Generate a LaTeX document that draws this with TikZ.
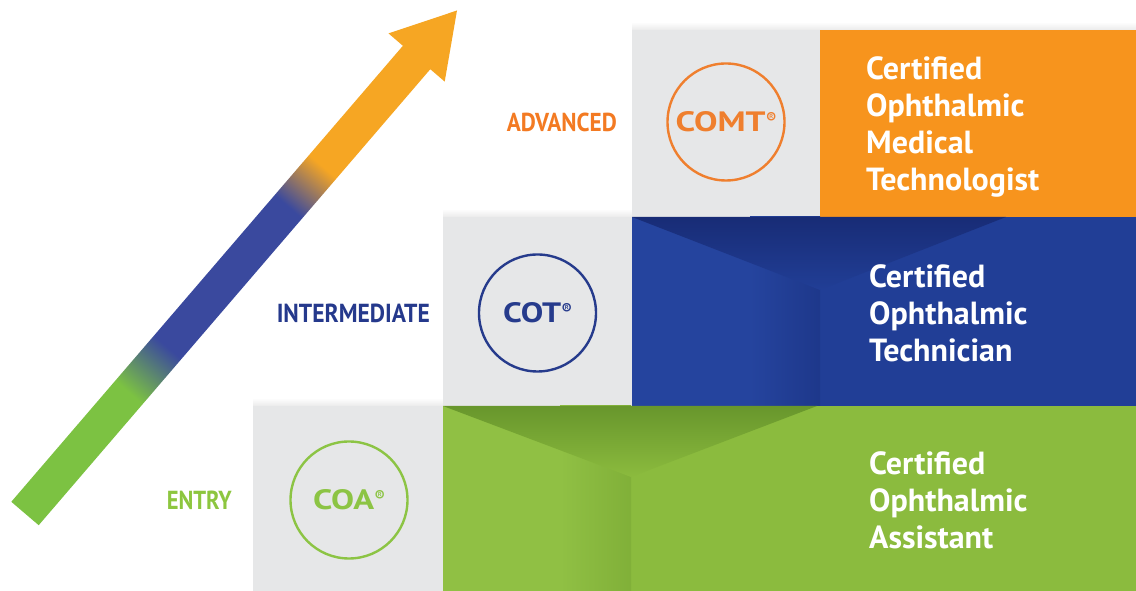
\documentclass[tikz,border=0pt]{standalone}
\usepackage{fontspec}
\usepackage{graphicx}
\setmainfont{PT Sans}
\definecolor{argreen}{HTML}{7CC242}
\definecolor{arblue}{HTML}{3A499E}
\definecolor{arorange}{HTML}{F6A623}
\definecolor{greybox}{HTML}{E6E7E8}
\definecolor{boxorange}{HTML}{F7941D}
\definecolor{boxblue}{RGB}{33,62,150}
\definecolor{boxblueL}{RGB}{37,68,158}
\definecolor{boxblueD}{RGB}{24,44,118}
\definecolor{boxgreen}{RGB}{139,187,62}
\definecolor{boxgreenL}{RGB}{144,192,68}
\definecolor{boxgreenD}{RGB}{104,150,44}
\definecolor{advc}{HTML}{F37A22}
\definecolor{intc}{HTML}{25398C}
\definecolor{entc}{HTML}{8DC63F}
\definecolor{comtc}{HTML}{EF7F2E}
\definecolor{cotc}{HTML}{263B8C}
\definecolor{coac}{HTML}{8CC444}
\pgfdeclareverticalshading{arrowgrad}{100bp}{color(0bp)=(argreen); color(37bp)=(argreen); color(41.5bp)=(arblue); color(55.5bp)=(arblue); color(59.5bp)=(arorange); color(100bp)=(arorange)}
\newcommand{\regmark}{\hspace{0.5pt}\raisebox{8pt}{\fontsize{15}{15}\selectfont\bfseries ®}}
\tikzset{
  lbl/.style={inner sep=0, anchor=east},
  badge/.style={circle, line width=2.4pt, minimum size=117pt, inner sep=0},
  badgetext/.style={anchor=base, inner sep=0},
  boxtext/.style={anchor=west, align=left, text=white, inner sep=0, font=\fontsize{32}{37}\selectfont\bfseries}
}
\begin{document}
\begin{tikzpicture}[x=1pt,y=1pt]
\useasboundingbox (0,0) rectangle (1136,591);
\fill[white] (0,0) rectangle (1136,591);

% faint shadows above the steps
\shade[top color=white, bottom color=black!8] (632,561) rectangle (1136,569);
\shade[top color=white, bottom color=black!8] (443,374) rectangle (632,382);
\shade[top color=white, bottom color=black!8] (253,185) rectangle (443,193);

% top tier
\fill[greybox] (632,374) rectangle (820,561);
\fill[boxorange] (820,374) rectangle (1136,561);

% middle tier
\fill[greybox] (443,185) rectangle (632,374);
\fill[boxblue] (820,185) rectangle (1136,374);
\fill[boxblueL] (632,185) rectangle (750,374);
\shade[left color=boxblueL, right color=boxblueD!35!boxblue] (750,185) rectangle (820,374);
\shade[top color=boxblueD, bottom color=boxblue] (632,374) -- (1006,374) -- (820,301) -- cycle;

% bottom tier
\fill[greybox] (253,0) rectangle (443,185);
\fill[boxgreen] (631,0) rectangle (1136,185);
\fill[boxgreenL] (443,0) rectangle (560,185);
\shade[left color=boxgreenL, right color=boxgreenD!30!boxgreen] (560,0) rectangle (631,185);
\shade[top color=boxgreenD, bottom color=boxgreen] (443,185) -- (817,185) -- (631,114) -- cycle;

% gradient arrow
\begin{scope}
\clip (11.3,89.2) -- (402.9,545.2) -- (388.5,557.6) -- (457.0,580.5) -- (444.7,509.4) -- (430.3,521.8) -- (38.7,65.8) -- cycle;
\shade[shading=arrowgrad, shading angle=-40.66] (-90.5,-2.5) rectangle (572.5,660.5);
\end{scope}

% level labels
\node[lbl, text=advc] (adv) at (617,469) {\resizebox{110pt}{18.5pt}{\bfseries ADVANCED}};
\node[lbl, text=intc] (inter) at (430,278) {\resizebox{153pt}{18.5pt}{\bfseries INTERMEDIATE}};
\node[lbl, text=entc] (entry) at (232,91) {\resizebox{65pt}{18.5pt}{\bfseries ENTRY}};

% badges
\node[badge, draw=comtc] (comtring) at (726,469) {};
\node[badgetext, text=comtc] (comt) at (726,459) {\resizebox{90pt}{20pt}{\bfseries COMT}\regmark};
\node[badge, draw=cotc] (cotring) at (537.5,278) {};
\node[badgetext, text=cotc] (cot) at (537.5,268) {\resizebox{58pt}{20pt}{\bfseries COT}\regmark};
\node[badge, draw=coac] (coaring) at (349,91) {};
\node[badgetext, text=coac] (coa) at (349,81) {\resizebox{61pt}{20pt}{\bfseries COA}\regmark};

% box texts
\node[boxtext] (tcomt) at (866,464) {Certified\\Ophthalmic\\Medical\\Technologist};
\node[boxtext] (tcot) at (869,277.5) {Certified\\Ophthalmic\\Technician};
\node[boxtext] (tcoa) at (869,91) {Certified\\Ophthalmic\\Assistant};
\end{tikzpicture}
\end{document}
